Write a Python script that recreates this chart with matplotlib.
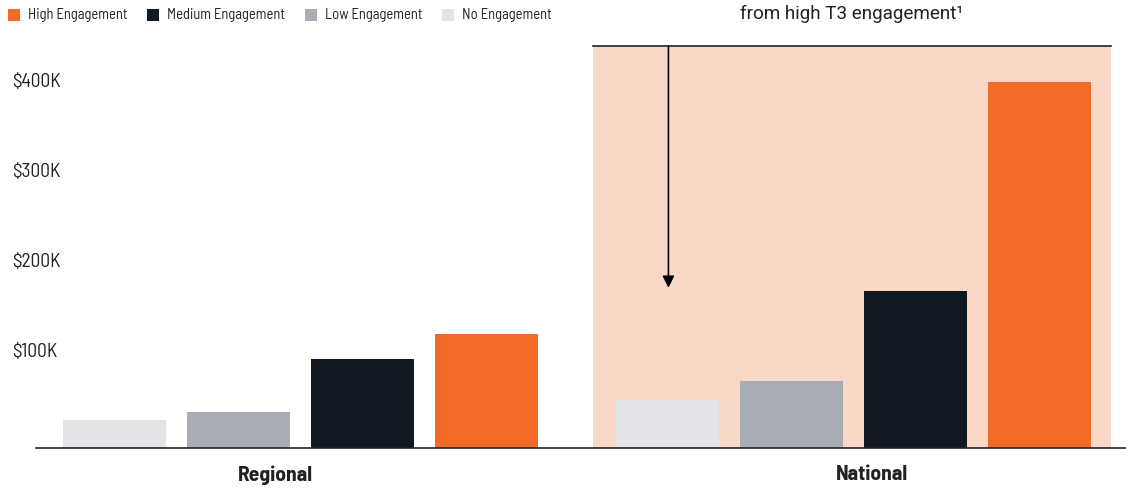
import matplotlib
matplotlib.use("Agg")
import matplotlib.pyplot as plt
import matplotlib.transforms as mtrans
from matplotlib.patches import Rectangle

# ---------------- data ----------------
groups = ["Regional", "National"]
series = ["No Engagement", "Low Engagement", "Medium Engagement", "High Engagement"]
regional_values = [31, 40, 99, 127]      # $K
national_values = [53, 74, 174, 407]     # $K
ytick_values = [100, 200, 300, 400]
ytick_labels = ["$100K", "$200K", "$300K", "$400K"]
legend_order = ["High Engagement", "Medium Engagement", "Low Engagement", "No Engagement"]
title_text = "from high T3 engagement\u00b9"

colors = {
    "High Engagement": "#F26A25",
    "Medium Engagement": "#111923",
    "Low Engagement": "#A9ACB3",
    "No Engagement": "#E3E4E8",
}
shade = "#F9D8C8"
ink = "#222222"

cond = ["Barlow Semi Condensed", "DejaVu Sans"]
plt.rcParams["font.family"] = cond

W, H = 1126, 488
fig = plt.figure(figsize=(W / 100, H / 100), dpi=100)
ax = fig.add_axes([36 / W, 40 / H, 1090 / W, 402 / H])

group_offsets = [0.0, 4.46]
bar_w = 0.83
ax.set_xlim(-0.63, 8.16)
ymax = 402 / 90 * 100
ax.set_ylim(0, ymax)

# shaded region for National
ax.add_patch(Rectangle((3.86, 0), 8.04 - 3.86, ymax, facecolor=shade,
                       edgecolor="none", zorder=0))
ax.plot([3.86, 8.04], [ymax, ymax], color=ink, lw=1.2, zorder=3, clip_on=False)

for off, vals in zip(group_offsets, [regional_values, national_values]):
    for i, (s, v) in enumerate(zip(series, vals)):
        ax.bar(off + i, v, width=bar_w, color=colors[s], zorder=2)

# arrow
ax.annotate("", xy=(4.47, 178), xytext=(4.47, ymax),
            arrowprops=dict(arrowstyle="-|>,head_length=0.7,head_width=0.35",
                            color="black", lw=1.2, shrinkA=0, shrinkB=0), zorder=4)

for sp in ["top", "right", "left"]:
    ax.spines[sp].set_visible(False)
ax.spines["bottom"].set_color(ink)
ax.spines["bottom"].set_linewidth(1.2)
ax.set_xticks([])
ax.set_yticks([])

# y labels
tr = mtrans.blended_transform_factory(fig.transFigure, ax.transData)
tr = mtrans.offset_copy(tr, fig=fig, y=6, units="dots")
for v, lab in zip(ytick_values, ytick_labels):
    fig.text(12 / W, v, lab, transform=tr, ha="left", va="center",
             fontsize=14, color=ink)

# group labels
trg = mtrans.blended_transform_factory(ax.transData, fig.transFigure)
for x, g in zip([1.30, 6.11], groups):
    ax.text(x, 1 - 475 / H, g, transform=trg, ha="center", va="center",
            fontsize=15.5, fontweight="bold", color=ink)

# title fragment
fig.text(852 / W, 1 - 14 / H, title_text, ha="center", va="center",
         fontsize=13.6, color=ink, family=["Roboto", "DejaVu Sans"])

# legend (manual)
leg_x = [8, 147, 305, 442]
for x, s in zip(leg_x, legend_order):
    fig.patches.append(Rectangle((x / W, 1 - 21 / H), 12 / W, 12 / H,
                                 transform=fig.transFigure, facecolor=colors[s],
                                 edgecolor="none"))
    fig.text((x + 20) / W, 1 - 15 / H, s, ha="left", va="center",
             fontsize=10.5, color=ink)

fig.savefig("out.png", dpi=100)
